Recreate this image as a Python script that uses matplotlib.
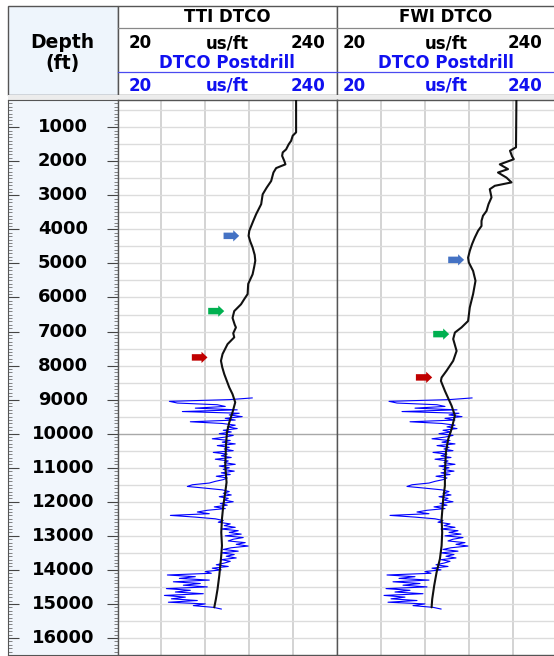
import numpy as np
import matplotlib
matplotlib.use("Agg")
import matplotlib.pyplot as plt
from matplotlib.patches import Rectangle, FancyArrow

# ---------------- data ----------------
TRACK_TITLES = ["TTI DTCO", "FWI DTCO"]
SCALE_MIN, SCALE_MAX, SCALE_UNIT = 20, 240, "us/ft"
POSTDRILL_LABEL = "DTCO Postdrill"
DEPTH_TICKS = [1000, 2000, 3000, 4000, 5000, 6000, 7000, 8000, 9000, 10000,
               11000, 12000, 13000, 14000, 15000, 16000]
DEPTH_TOP, DEPTH_BOTTOM = 200, 16500

tti_depth = [200, 1150, 1250, 1400, 1500, 1650, 1740, 1840, 2000, 2090, 2140, 2200,
             2330, 2580, 2770, 2970, 3260, 3550, 3750, 4040, 4190, 4350, 4530, 4750,
             4920, 5100, 5320, 5600, 5900, 6050, 6200, 6400, 6600, 6800, 6880, 7050,
             7170, 7370, 7660, 7860, 8050, 8250, 8640, 8840, 9080, 9370, 9670, 9960,
             10350, 10940, 11430, 11720, 12120, 12500, 12900, 13290, 13680, 14170,
             14560, 14860, 15100]
tti_dtco = [199.0, 199.0, 195.6, 194.0, 191.6, 189.0, 185.6, 185.0, 187.3, 188.3, 184.0, 179.0,
            176.3, 174.0, 169.6, 165.5, 164.0, 159.0, 156.1, 152.1, 151.4, 153.0, 155.4, 157.5,
            158.1, 157.0, 155.4, 151.0, 150.4, 147.0, 143.8, 137.0, 135.3, 137.5, 138.7, 136.0,
            137.0, 130.3, 125.3, 123.7, 125.0, 127.0, 132.0, 135.3, 138.0, 135.3, 132.0, 129.7,
            128.7, 128.0, 129.3, 128.0, 126.0, 124.7, 124.0, 124.7, 123.7, 122.0,
            120.3, 118.6, 117.0]

fwi_depth = [200, 1590, 1690, 1850, 1940, 2090, 2230, 2330, 2480, 2620, 2720, 2820,
             3060, 3260, 3460, 3600, 3750, 3900, 4040, 4240, 4430, 4630, 4830, 4970,
             5220, 5510, 5900, 6290, 6690, 6880, 7030, 7220, 7570, 7860, 8150, 8350,
             8450, 8750, 9180, 9470, 9860, 10160, 10550, 11140, 11530, 11920, 12510,
             12900, 13290, 13680, 14070, 14460, 14860, 15100]
fwi_dtco = [199.4, 199.0, 193.0, 195.0, 196.8, 182.8, 191.0, 181.0, 189.5, 194.5, 177.8, 172.8,
            174.5, 171.5, 169.5, 166.0, 164.5, 164.5, 161.1, 157.8, 155.1, 152.8, 151.1, 151.8,
            156.1, 158.5, 156.1, 152.8, 151.1, 144.5, 137.9, 136.2, 139.6, 136.2, 129.6, 124.6,
            123.9, 128.0, 134.6, 137.9, 134.6, 131.2, 128.9, 127.9, 127.9, 126.2, 124.6,
            125.2, 124.6, 122.9, 119.6, 117.2, 115.2, 114.6]

# postdrill sonic, sampled every 50 ft from 8950 ft
post_start, post_step = 8950, 50
post_dtco = [155, 132, 72, 80, 120, 128, 98, 140, 85, 142, 132, 145, 128, 138, 93,
             125, 138, 130, 140, 126, 134, 122, 136, 128, 115, 133, 125, 138, 120, 132,
             127, 136, 116, 130, 124, 134, 118, 131, 127, 138, 122, 132, 126, 137, 124,
             133, 119, 130, 126, 118, 112, 95, 90, 108, 125, 132, 126, 134, 122, 131,
             127, 136, 123, 130, 117, 128, 110, 100, 112, 73, 98, 118, 126, 121, 133,
             127, 138, 124, 141, 132, 144, 128, 146, 136, 131, 148, 139, 151, 134, 126,
             141, 124, 137, 129, 139, 124, 133, 127, 119, 131, 115, 124, 108, 114, 70,
             98, 82, 112, 76, 103, 86, 110, 69, 93, 78, 106, 67, 88, 74, 100,
             71, 108, 96, 116, 124]

# marker arrows per track
arrow_depth = [[4190, 6400, 7760], [4895, 7076, 8347]]
arrow_tail = [[126.3, 110.9, 94.5], [131.2, 116.2, 98.9]]
arrow_tip = [[142.0, 127.0, 110.2], [147.1, 132.2, 115.2]]
arrow_colors = ["#4472C4", "#00B050", "#C00000"]

# ---------------- figure ----------------
W, H = 554, 656
fig = plt.figure(figsize=(W / 100, H / 100), dpi=100)
fig.patch.set_facecolor("white")

def rect(x0, y0, x1, y1):
    return [x0 / W, 1 - y1 / H, (x1 - x0) / W, (y1 - y0) / H]

BLUE = "#1010F0"
FRAME = "#555555"

bg = fig.add_axes([0, 0, 1, 1], zorder=0)
bg.set_xlim(0, W)
bg.set_ylim(H, 0)
bg.axis("off")

HDR_TOP, HDR_BOT = 6, 95
PLOT_TOP, PLOT_BOT = 100, 655
X_DEPTH0, X_DEPTH1 = 8, 117.5
TRACKS = [(117.5, 337), (337, 557)]

bg.add_patch(Rectangle((X_DEPTH0, HDR_TOP), X_DEPTH1 - X_DEPTH0, HDR_BOT - HDR_TOP,
                       facecolor="#eef5fc", edgecolor=FRAME, lw=1.0))
for (a, b) in TRACKS:
    bg.add_patch(Rectangle((a, HDR_TOP), b - a, HDR_BOT - HDR_TOP,
                           facecolor="white", edgecolor=FRAME, lw=1.0))
bg.add_patch(Rectangle((X_DEPTH0, HDR_BOT), W - X_DEPTH0, PLOT_TOP - HDR_BOT,
                       facecolor="#ececec", edgecolor="none"))
bg.plot([X_DEPTH1, W], [27.7, 27.7], color="#888888", lw=0.9)
bg.plot([X_DEPTH1, W], [72.3, 72.3], color="#4a4af0", lw=0.9)

bold = dict(fontweight="bold", family="DejaVu Sans")
bg.text((X_DEPTH0 + X_DEPTH1) / 2, 42, "Depth", ha="center", va="center", fontsize=13.5, **bold)
bg.text((X_DEPTH0 + X_DEPTH1) / 2, 64, "(ft)", ha="center", va="center", fontsize=13.5, **bold)

left_pad = [11, 6]
right_pad = [12, 15]
for i, (a, b) in enumerate(TRACKS):
    c = (a + b) / 2 if i == 0 else (a + 218 / 2)
    bg.text(c, 17, TRACK_TITLES[i], ha="center", va="center", fontsize=12, **bold)
    for yy, col in [(43, "black"), (86, BLUE)]:
        bg.text(a + left_pad[i], yy, str(SCALE_MIN), ha="left", va="center", fontsize=12, color=col, **bold)
        bg.text(c, yy, SCALE_UNIT, ha="center", va="center", fontsize=12, color=col, **bold)
        bg.text(b - right_pad[i], yy, str(SCALE_MAX), ha="right", va="center", fontsize=12, color=col, **bold)
    bg.text(c, 63, POSTDRILL_LABEL, ha="center", va="center", fontsize=12, color=BLUE, **bold)

# depth column
axd = fig.add_axes(rect(X_DEPTH0, PLOT_TOP, X_DEPTH1, PLOT_BOT), zorder=1)
axd.set_facecolor("#f1f6fc")
axd.set_ylim(DEPTH_BOTTOM, DEPTH_TOP)
axd.set_xlim(0, 1)
axd.set_xticks([])
axd.set_yticks(DEPTH_TICKS)
axd.set_yticks(np.arange(300, DEPTH_BOTTOM, 100), minor=True)
axd.tick_params(axis="y", which="major", direction="in", length=8, width=0.8,
                left=True, right=True, labelleft=False, color="#444444")
axd.tick_params(axis="y", which="minor", direction="in", length=3, width=0.5,
                left=True, right=True, color="#555555")
for d in DEPTH_TICKS:
    axd.text(0.5, d, str(d), ha="center", va="center", fontsize=13, **bold)
for s in axd.spines.values():
    s.set_color(FRAME)

# tracks
post_depth = post_start + post_step * np.arange(len(post_dtco))
curves = [(tti_depth, tti_dtco), (fwi_depth, fwi_dtco)]
for i, (a, b) in enumerate(TRACKS):
    ax = fig.add_axes(rect(a, PLOT_TOP, b, PLOT_BOT), zorder=1)
    ax.set_facecolor("white")
    ax.set_xlim(SCALE_MIN, SCALE_MAX)
    ax.set_ylim(DEPTH_BOTTOM, DEPTH_TOP)
    ax.set_xticks([])
    ax.set_yticks([])
    for v in np.arange(SCALE_MIN + 44, SCALE_MAX, 44):
        ax.axvline(v, color="#c8c8c8", lw=1.1, zorder=1)
    for d in np.arange(500, DEPTH_BOTTOM, 500):
        c = "#a8a8a8" if d % 10000 == 0 else "#dcdcdc"
        ax.axhline(d, color=c, lw=1.0, zorder=1)
    ax.plot(post_dtco, post_depth, color="#0000ff", lw=0.8, zorder=2)
    ax.plot(curves[i][1], curves[i][0], color="#111111", lw=1.5, zorder=3,
            solid_joinstyle="round", solid_capstyle="round")
    for d, t0, t1, col in zip(arrow_depth[i], arrow_tail[i], arrow_tip[i], arrow_colors):
        ax.add_patch(FancyArrow(t0, d, t1 - t0, 0, width=190, head_width=330,
                                head_length=6, length_includes_head=True,
                                color=col, ec="none", zorder=4))
    for s in ax.spines.values():
        s.set_color(FRAME)
        s.set_linewidth(1.0)

fig.savefig("out.png", dpi=100)
